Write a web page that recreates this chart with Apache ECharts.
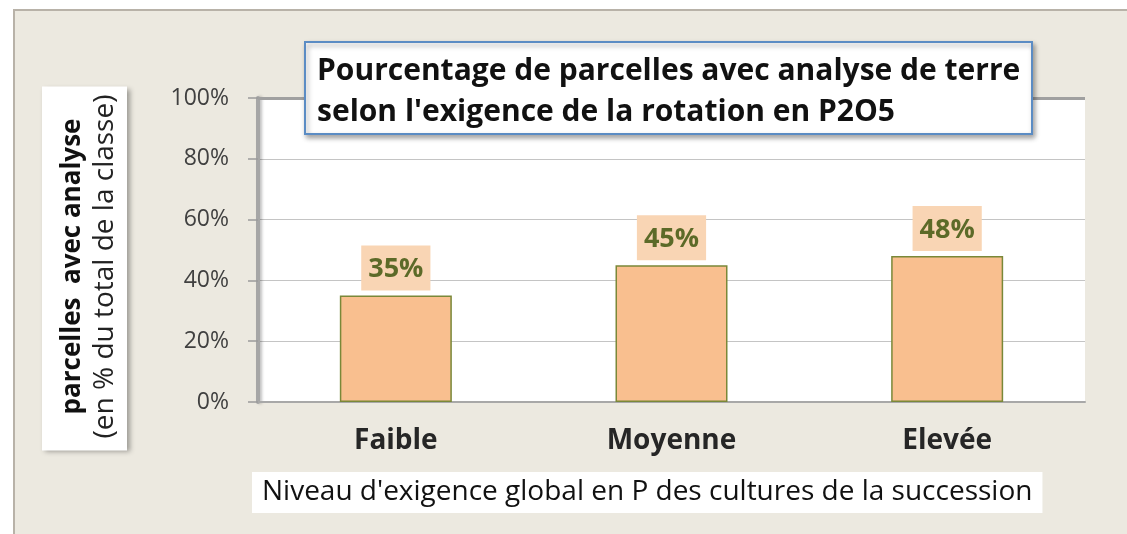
<!DOCTYPE html>
<html lang="fr">
<head>
    <meta charset="UTF-8">
    <title>Pourcentage de parcelles avec analyse de terre</title>
    <script src="https://cdn.jsdelivr.net/npm/echarts@6/dist/echarts.min.js"></script>
    <style>
        body {
            margin: 0;
            background: #ffffff;
            font-family: "Open Sans", sans-serif;
        }
        /* panneau beige derrière le graphique */
        #panel {
            position: absolute;
            left: 13px;
            top: 9px;
            width: 1120px;
            height: 530px;
            background: #ECE9E0;
            border-left: 2px solid #b8b2a8;
            border-top: 2px solid #b8b2a8;
        }
        #chart {
            position: absolute;
            left: 0;
            top: 0;
            width: 1127px;
            height: 534px;
        }
    </style>
</head>
<body>
<div id="panel"></div>
<div id="chart"></div>

<script>
    // données
    const categories = ['Faible', 'Moyenne', 'Elevée'];
    const percentages = [35, 45, 48];
    const yTicks = [0, 20, 40, 60, 80, 100];

    const FONT = '"Open Sans", sans-serif';
    const chart = echarts.init(document.getElementById('chart'));

    const option = {
        textStyle: { fontFamily: FONT },
        title: [
            {
                text: "Pourcentage de parcelles avec analyse de terre\nselon l'exigence de la rotation en P2O5",
                left: 305,
                top: 42,
                padding: [9, 12, 1, 12],
                backgroundColor: '#ffffff',
                borderColor: '#5b8cc4',
                borderWidth: 2,
                shadowColor: 'rgba(0,0,0,0.35)',
                shadowBlur: 5,
                shadowOffsetX: 2,
                shadowOffsetY: 3,
                textStyle: {
                    fontSize: 30,
                    fontWeight: 'bold',
                    color: '#111',
                    lineHeight: 41,
                    align: 'center'
                }
            },
            {
                text: "Niveau d'exigence global en P des cultures de la succession",
                left: 252,
                top: 472,
                padding: [3, 10, 3, 10],
                backgroundColor: '#ffffff',
                textStyle: {
                    fontSize: 28,
                    fontWeight: 'normal',
                    color: '#111',
                    lineHeight: 35
                }
            }
        ],
        // titre de l'axe vertical, dans son cadre blanc
        graphic: [{
            type: 'text',
            x: 84.5,
            y: 268.5,
            rotation: Math.PI / 2,
            z: 10,
            style: {
                text: '{a|parcelles  avec analyse}\n{b|(en % du total de la classe)}',
                align: 'center',
                verticalAlign: 'middle',
                fontFamily: FONT,
                backgroundColor: '#ffffff',
                padding: [14, 8, 5, 12],
                shadowColor: 'rgba(0,0,0,0.35)',
                shadowBlur: 5,
                shadowOffsetX: 3,
                shadowOffsetY: 2,
                rich: {
                    a: { fontSize: 26, fontWeight: 'bold', fill: '#111', lineHeight: 33, fontFamily: FONT },
                    b: { fontSize: 28, fill: '#222', lineHeight: 33, fontFamily: FONT }
                }
            }
        }],
        grid: {
            left: 258,
            right: 42,
            top: 98,
            bottom: 132,
            show: true,
            backgroundColor: '#ffffff',
            borderWidth: 0
        },
        xAxis: {
            type: 'category',
            data: categories,
            axisTick: { show: false },
            axisLine: { lineStyle: { color: '#a8a8a8', width: 2 } },
            axisLabel: {
                margin: 25,
                fontSize: 28,
                fontWeight: 'bold',
                color: '#262626'
            }
        },
        yAxis: {
            type: 'value',
            min: 0,
            max: 100,
            interval: 20,
            axisLine: {
                show: true,
                lineStyle: {
                    color: '#a6a6a6',
                    width: 4,
                    shadowColor: 'rgba(0,0,0,0.25)',
                    shadowBlur: 3,
                    shadowOffsetX: 2
                }
            },
            axisTick: {
                show: true,
                length: 10,
                lineStyle: { color: '#9a9a9a', width: 1.5 }
            },
            axisLabel: {
                margin: 29,
                fontSize: 23,
                color: '#404040',
                formatter: function (v) {
                    return yTicks.indexOf(v) >= 0 ? v + '%' : '';
                }
            },
            splitLine: { lineStyle: { color: '#c4c4c4', width: 1.2 } }
        },
        series: [{
            type: 'bar',
            data: percentages,
            barWidth: 112,
            itemStyle: {
                color: '#F9BF8F',
                borderColor: '#7A8838',
                borderWidth: 1.5
            },
            label: {
                show: true,
                position: 'top',
                distance: 5,
                formatter: '{c}%',
                fontSize: 27,
                fontWeight: 'bold',
                color: '#5C6A28',
                lineHeight: 30,
                backgroundColor: '#F9D5B4',
                padding: [9, 7, 6, 7]
            },
            markLine: {
                silent: true,
                symbol: 'none',
                label: { show: false },
                lineStyle: { color: '#a0a0a0', width: 3, type: 'solid' },
                data: [{ yAxis: 100 }]
            }
        }]
    };

    chart.setOption(option);
</script>
</body>
</html>
